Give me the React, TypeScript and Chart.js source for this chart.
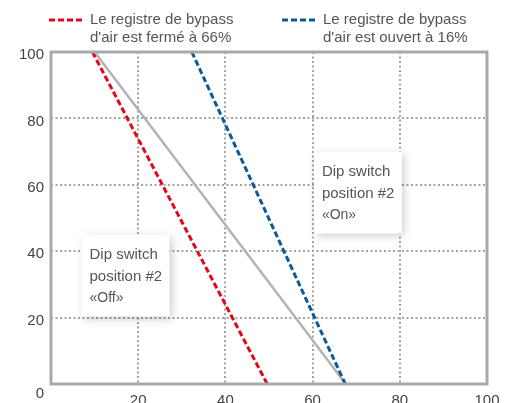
import React, { useEffect, useRef } from "react";
import { Chart, registerables } from "chart.js";

Chart.register(...registerables);

// ---- data ----
const redX = [9.5, 49.6];
const redY = [100, 0];
const blueX = [32.3, 67.5];
const blueY = [100, 0];
const grayX = [10, 67.6];
const grayY = [100, 0];

const redLabel = ["Le registre de bypass", "d'air est fermé à 66%"];
const blueLabel = ["Le registre de bypass", "d'air est ouvert à 16%"];

const xTicks = [0, 20, 40, 60, 80, 100];
const yTicks = [0, 20, 40, 60, 80, 100];

const boxOnLines = ["Dip switch", "position #2", "«On»"];
const boxOffLines = ["Dip switch", "position #2", "«Off»"];

const RED = "#e2071b";
const BLUE = "#0b5a96";
const GRAY = "#b3b3b3";
const FONT = "'Liberation Sans', Arial, sans-serif";

const toPts = (xs: number[], ys: number[]) => xs.map((x, i) => ({ x, y: ys[i] }));

const annotations = [
  { x: 60.3, y: 70, lines: boxOnLines },
  { x: 7, y: 45, lines: boxOffLines },
];

const decor = {
  id: "decor",
  beforeDatasetsDraw(chart: any) {
    const ctx = chart.ctx;
    const xs = chart.scales.x;
    const ys = chart.scales.y;
    annotations.forEach((a) => {
      const left = xs.getPixelForValue(a.x);
      const top = ys.getPixelForValue(a.y);
      const w = 88;
      const h = 82;
      ctx.save();
      ctx.shadowColor = "rgba(0,0,0,0.22)";
      ctx.shadowBlur = 9;
      ctx.shadowOffsetX = 2;
      ctx.shadowOffsetY = 2;
      ctx.fillStyle = "#ffffff";
      ctx.fillRect(left, top, w, h);
      ctx.restore();
      ctx.save();
      ctx.fillStyle = "#555555";
      ctx.font = `15px ${FONT}`;
      ctx.textBaseline = "middle";
      ctx.textAlign = "left";
      const offs = [20, 42, 64];
      a.lines.forEach((t, i) => {
        if (i === 2) ctx.font = `14px ${FONT}`;
        ctx.fillText(t, left + 8, top + offs[i]);
      });
      ctx.restore();
    });
  },
  afterDatasetsDraw(chart: any) {
    const ctx = chart.ctx;
    const { left, right, top, bottom } = chart.chartArea;
    ctx.save();
    ctx.strokeStyle = "#a9a9a9";
    ctx.lineWidth = 3;
    ctx.strokeRect(left, top, right - left, bottom - top);
    ctx.restore();
  },
  afterDraw(chart: any) {
    const ctx = chart.ctx;
    const { left, bottom } = chart.chartArea;
    ctx.save();
    // origin label
    ctx.fillStyle = "#444444";
    ctx.font = `15px ${FONT}`;
    ctx.textAlign = "center";
    ctx.textBaseline = "middle";
    ctx.fillText(String(yTicks[0]), left - 11, bottom + 10);
    // legend
    const items = [
      { color: RED, lines: redLabel, x: left - 2 },
      { color: BLUE, lines: blueLabel, x: left + 231 },
    ];
    items.forEach((it) => {
      ctx.save();
      ctx.strokeStyle = it.color;
      ctx.lineWidth = 3;
      ctx.setLineDash([6, 3]);
      ctx.beginPath();
      ctx.moveTo(it.x, 20);
      ctx.lineTo(it.x + 33, 20);
      ctx.stroke();
      ctx.restore();
      ctx.fillStyle = "#555555";
      ctx.font = `15px ${FONT}`;
      ctx.textAlign = "left";
      ctx.textBaseline = "middle";
      it.lines.forEach((t, i) => ctx.fillText(t, it.x + 41, 20 + i * 18));
    });
    ctx.restore();
  },
};

export default function App() {
  const ref = useRef<HTMLCanvasElement>(null);
  useEffect(() => {
    if (!ref.current) return;
    const chart = new Chart(ref.current, {
      type: "line",
      data: {
        datasets: [
          {
            label: redLabel.join(" "),
            data: toPts(redX, redY),
            borderColor: RED,
            borderWidth: 3,
            borderDash: [6, 3],
            pointRadius: 0,
            fill: false,
          },
          {
            label: blueLabel.join(" "),
            data: toPts(blueX, blueY),
            borderColor: BLUE,
            borderWidth: 3,
            borderDash: [6, 3],
            pointRadius: 0,
            fill: false,
          },
          {
            label: "ref",
            data: toPts(grayX, grayY),
            borderColor: GRAY,
            borderWidth: 2.5,
            pointRadius: 0,
            fill: false,
          },
        ],
      },
      options: {
        responsive: false,
        animation: false,
        layout: { padding: { top: 52, right: 26, left: 0, bottom: 0 } },
        plugins: { legend: { display: false }, tooltip: { enabled: false } },
        scales: {
          x: {
            type: "linear",
            min: 0,
            max: 100,
            afterFit: (s: any) => {
              s.height = 19;
            },
            afterBuildTicks: (s: any) => {
              s.ticks = xTicks.map((v) => ({ value: v }));
            },
            grid: { color: "#a3a3a3", lineWidth: 2, drawTicks: false },
            border: { display: false, dash: [2, 2.5] },
            ticks: {
              padding: 8,
              color: "#444444",
              font: { family: FONT, size: 15 },
              maxRotation: 0,
              callback: (v: any) => (v === 0 ? "" : String(v)),
            },
          },
          y: {
            type: "linear",
            min: 0,
            max: 100,
            afterFit: (s: any) => {
              s.width = 51;
            },
            afterBuildTicks: (s: any) => {
              s.ticks = yTicks.map((v) => ({ value: v }));
            },
            grid: { color: "#a3a3a3", lineWidth: 2, drawTicks: false },
            border: { display: false, dash: [2, 2.5] },
            ticks: {
              padding: 7,
              labelOffset: 3,
              color: "#444444",
              font: { family: FONT, size: 15 },
              callback: (v: any) => (v === 0 ? "" : String(v)),
            },
          },
        },
      },
      plugins: [decor],
    } as any);
    return () => chart.destroy();
  }, []);
  return (
    <div style={{ position: "fixed", left: 0, top: 0, width: 513, height: 403, background: "#fff" }}>
      <canvas ref={ref} width={513} height={403} style={{ display: "block" }} />
    </div>
  );
}
